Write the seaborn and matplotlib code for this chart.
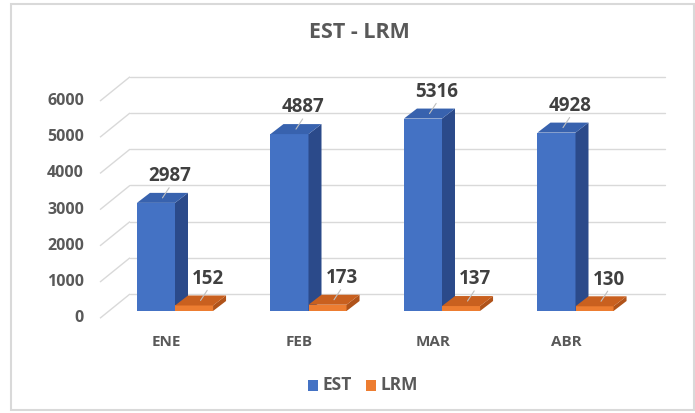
import matplotlib
matplotlib.use("Agg")
import matplotlib.pyplot as plt
import seaborn as sns
import pandas as pd
from matplotlib.patches import Polygon, Rectangle

# ---- data ----
categories = ["ENE", "FEB", "MAR", "ABR"]
series = ["EST", "LRM"]
est_values = [2987, 4887, 5316, 4928]
lrm_values = [152, 173, 137, 130]
y_ticks = [0, 1000, 2000, 3000, 4000, 5000, 6000]
title = "EST - LRM"

front_colors = {"EST": "#4472C4", "LRM": "#ED7D31"}
top_colors = {"EST": "#3862AE", "LRM": "#C9601F"}
side_colors = {"EST": "#2B4A8A", "LRM": "#B0531A"}

df = pd.DataFrame({
    "mes": categories * 2,
    "serie": [series[0]] * len(categories) + [series[1]] * len(categories),
    "valor": est_values + lrm_values,
})

sns.set_style("white")
plt.rcParams["font.family"] = ["Open Sans", "DejaVu Sans"]

W, H = 695, 413
fig = plt.figure(figsize=(W / 100, H / 100), dpi=100)

# mapping of the drawing area (pixel layout of the reference)
px_per_cat = 133.5
x0px = 175
base_py = 311
px_per_unit = 0.0362
left_px, right_px, top_py, bot_py = 95, 680, 60, 360
ax = fig.add_axes([left_px / W, 1 - bot_py / H,
                   (right_px - left_px) / W, (bot_py - top_py) / H])

sns.barplot(data=df, x="mes", y="valor", hue="serie", palette=front_colors,
            width=0.57, gap=0, saturation=1, legend=False, ax=ax,
            order=categories, hue_order=series, zorder=3, linewidth=0)

ax.set_xlim((left_px - x0px) / px_per_cat, (right_px - x0px) / px_per_cat)
ax.set_ylim((base_py - bot_py) / px_per_unit, (base_py - top_py) / px_per_unit)
ax.axis("off")

# depth offsets
bdx = 13 / px_per_cat
bdy = 10 / px_per_unit
wall_front_x = (100 - x0px) / px_per_cat
wall_back_x = (130 - x0px) / px_per_cat
wall_right_x = (665 - x0px) / px_per_cat
front_off = -200
back_off = 470

grid_c = "#D9D9D9"
for v in y_ticks:
    ax.plot([wall_front_x, wall_back_x], [v + front_off, v + back_off],
            color=grid_c, lw=1, zorder=1, solid_capstyle="butt")
    ax.plot([wall_back_x, wall_right_x], [v + back_off, v + back_off],
            color=grid_c, lw=1, zorder=1)
    ax.text((84 - x0px) / px_per_cat, v + front_off, str(v), ha="right",
            va="center", fontsize=11.5, fontweight="bold", color="#595959")

# 3D faces
bars = list(ax.patches)
n = len(categories)
for idx, bar in enumerate(bars):
    s = series[idx // n]
    x = bar.get_x()
    w = bar.get_width()
    h = bar.get_height()
    z = 3 + (idx // n) * 2
    bar.set_zorder(z)
    top = Polygon([(x, h), (x + w, h), (x + w + bdx, h + bdy), (x + bdx, h + bdy)],
                  closed=True, facecolor=top_colors[s], edgecolor="none", zorder=z + 0.5)
    side = Polygon([(x + w, 0), (x + w, h), (x + w + bdx, h + bdy), (x + w + bdx, bdy)],
                   closed=True, facecolor=side_colors[s], edgecolor="none", zorder=z + 0.5)
    ax.add_patch(side)
    ax.add_patch(top)
    cx = x + w / 2
    ax.plot([cx + bdx / 2, cx + bdx / 2 + 0.05], [h + bdy / 2, h + bdy / 2 + 280],
            color="#BFBFBF", lw=0.8, zorder=z + 1)
    ax.text(cx + 0.105, h + 740, f"{int(h)}", ha="center", va="center",
            fontsize=13.5, fontweight="bold", color="#404040", zorder=10)

for i, c in enumerate(categories):
    ax.text(i - 9 / px_per_cat, (base_py - 342) / px_per_unit, c, ha="center",
            va="center", fontsize=11, fontweight="bold", color="#595959")

fig.text(359 / W, 1 - 33 / H, title, ha="center", va="center", fontsize=15.5,
         fontweight="bold", color="#595959")

# legend
legend_items = [(series[0], 308, 322), (series[1], 366, 381)]
for name, sq_x, tx in legend_items:
    fig.add_artist(Rectangle((sq_x / W, 1 - 391 / H), 10 / W, 11 / H,
                             transform=fig.transFigure,
                             facecolor=front_colors[name], edgecolor="none"))
    fig.text(tx / W, 1 - 385.5 / H, name, ha="left", va="center", fontsize=12.5,
             fontweight="bold", color="#595959")

# outer frame
fig.add_artist(Rectangle((11 / W, 1 - 410 / H), (694 - 11) / W, (410 - 4) / H,
                         transform=fig.transFigure, facecolor="none",
                         edgecolor="#D9D9D9", lw=1.5))

fig.savefig("out.png", dpi=100)
